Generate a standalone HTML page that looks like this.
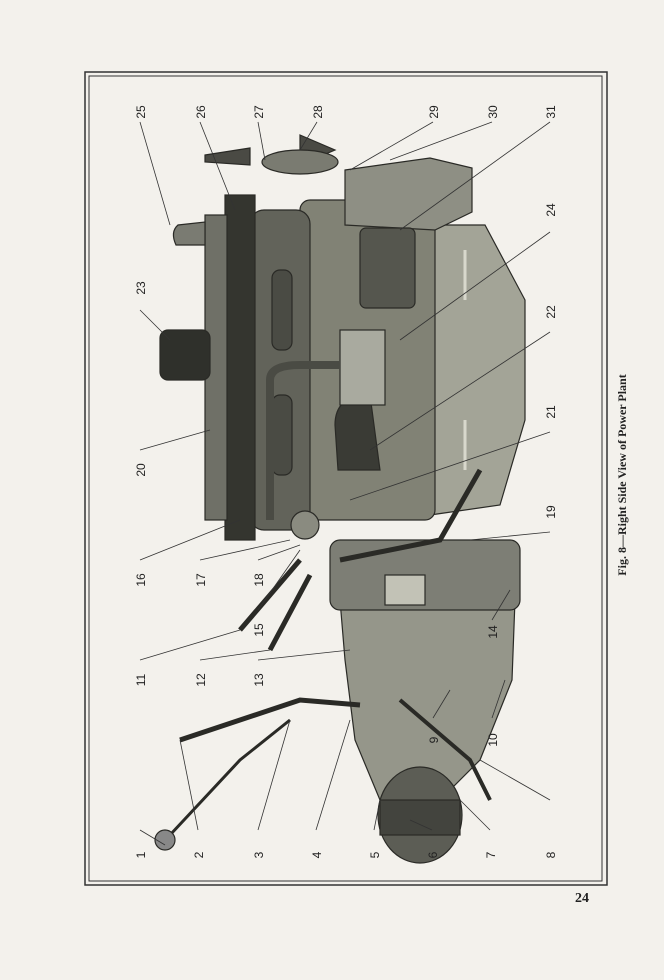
<!DOCTYPE html>
<html><head><meta charset="utf-8"><style>
html,body{margin:0;padding:0;background:#f3f1ec;}
svg{display:block}
text{font-family:"Liberation Sans",sans-serif;}
</style></head><body>
<svg width="664" height="980" viewBox="0 0 664 980" xmlns="http://www.w3.org/2000/svg">
<rect width="664" height="980" fill="#f3f1ec"/>
<rect x="85" y="72" width="522" height="813" fill="none" stroke="#333" stroke-width="1.5"/>
<rect x="89" y="76" width="513" height="805" fill="none" stroke="#333" stroke-width="1"/>
<g stroke="#2a2a26" stroke-width="1.2">
<!-- oil pan -->
<path d="M430 225 L485 225 L525 300 L525 420 L500 505 L430 515 Z" fill="#a3a497"/>
<path d="M465 250 L465 300 M465 420 L465 470" stroke="#d8d8cc" stroke-width="3"/>
<!-- block -->
<rect x="300" y="200" width="135" height="320" rx="10" fill="#818275"/>
<rect x="250" y="210" width="60" height="320" rx="14" fill="#62635a"/>
<rect x="272" y="270" width="20" height="80" rx="8" fill="#4a4b44"/>
<rect x="272" y="395" width="20" height="80" rx="8" fill="#4a4b44"/>
<rect x="225" y="195" width="30" height="345" fill="#34352f"/>
<rect x="205" y="215" width="22" height="305" fill="#6f7067"/>
<path d="M178 225 Q170 232 176 245 L205 245 L205 222 Z" fill="#7a7b72"/>
<!-- timing cover -->
<path d="M345 170 L430 158 L472 168 L472 212 L435 230 L345 225 Z" fill="#8e8f84"/>
<rect x="360" y="228" width="55" height="80" rx="6" fill="#55564e"/>
<!-- fan -->
<path d="M205 155 L250 148 L250 165 L205 162 Z" fill="#4a4a44"/>
<path d="M300 135 L335 150 L300 165 Z" fill="#4a4a44"/>
<ellipse cx="300" cy="162" rx="38" ry="12" fill="#7a7b71"/>
<!-- air cleaner -->
<rect x="160" y="330" width="50" height="50" rx="8" fill="#2f302b"/>
<!-- carburetor / intake -->
<path d="M335 425 Q335 395 370 395 L380 470 L338 470 Z" fill="#3a3b35"/>
<rect x="340" y="330" width="45" height="75" fill="#a9aa9f"/>
<path d="M270 520 L270 380 Q270 365 300 365 L340 365" fill="none" stroke="#4a4b44" stroke-width="8"/>
<!-- transmission -->
<path d="M340 600 L515 600 L512 680 L480 760 L440 800 L380 800 L355 740 L345 660 Z" fill="#95968a"/>
<rect x="330" y="540" width="190" height="70" rx="10" fill="#7d7e75"/>
<rect x="385" y="575" width="40" height="30" fill="#c2c2b6"/>
<circle cx="305" cy="525" r="14" fill="#8a8b80"/>
<!-- pedals -->
<path d="M300 560 L240 630 M310 575 L270 650" fill="none" stroke-width="5"/>
<!-- clutch drum -->
<ellipse cx="420" cy="815" rx="42" ry="48" fill="#5c5d55"/>
<rect x="380" y="800" width="80" height="35" fill="#43443e"/>
<!-- levers -->
<path d="M180 740 L300 700 L360 705" fill="none" stroke-width="5"/>
<path d="M170 835 L240 760 L290 720" fill="none" stroke-width="3"/>
<ellipse cx="165" cy="840" rx="10" ry="10" fill="#888"/>
<path d="M400 700 L470 760 L490 800" fill="none" stroke-width="4"/>
<!-- exhaust -->
<path d="M480 470 L440 540 L340 560" fill="none" stroke-width="5"/>
</g>
<g stroke="#333" stroke-width="0.8" fill="none">
<path d="M140 122 L170 225"/><path d="M200 122 L235 210"/><path d="M258 122 L265 160"/><path d="M317 122 L300 150"/>
<path d="M433 122 L350 170"/><path d="M492 122 L390 160"/><path d="M550 122 L400 230"/>
<path d="M550 232 L400 340"/><path d="M550 332 L370 450"/><path d="M550 432 L350 500"/><path d="M550 532 L470 540"/>
<path d="M492 620 L510 590"/><path d="M492 718 L505 680"/><path d="M433 718 L450 690"/>
<path d="M550 800 L480 760"/><path d="M490 830 L460 800"/><path d="M432 830 L410 820"/><path d="M374 830 L380 800"/><path d="M316 830 L350 720"/><path d="M258 830 L290 720"/><path d="M198 830 L180 740"/><path d="M140 830 L165 845"/>
<path d="M140 660 L240 630"/><path d="M200 660 L270 650"/><path d="M258 660 L350 650"/><path d="M258 610 L300 550"/><path d="M200 560 L290 540"/><path d="M140 560 L240 520"/><path d="M258 560 L300 545"/>
<path d="M140 450 L210 430"/><path d="M140 310 L170 340"/>
</g>
<g font-size="12" fill="#222">
<text transform="translate(145,112) rotate(-90)" text-anchor="middle">25</text>
<text transform="translate(205,112) rotate(-90)" text-anchor="middle">26</text>
<text transform="translate(263,112) rotate(-90)" text-anchor="middle">27</text>
<text transform="translate(322,112) rotate(-90)" text-anchor="middle">28</text>
<text transform="translate(438,112) rotate(-90)" text-anchor="middle">29</text>
<text transform="translate(497,112) rotate(-90)" text-anchor="middle">30</text>
<text transform="translate(555,112) rotate(-90)" text-anchor="middle">31</text>
<text transform="translate(555,210) rotate(-90)" text-anchor="middle">24</text>
<text transform="translate(555,312) rotate(-90)" text-anchor="middle">22</text>
<text transform="translate(555,412) rotate(-90)" text-anchor="middle">21</text>
<text transform="translate(555,512) rotate(-90)" text-anchor="middle">19</text>
<text transform="translate(497,632) rotate(-90)" text-anchor="middle">14</text>
<text transform="translate(497,740) rotate(-90)" text-anchor="middle">10</text>
<text transform="translate(438,740) rotate(-90)" text-anchor="middle">9</text>
<text transform="translate(145,288) rotate(-90)" text-anchor="middle">23</text>
<text transform="translate(145,470) rotate(-90)" text-anchor="middle">20</text>
<text transform="translate(145,580) rotate(-90)" text-anchor="middle">16</text>
<text transform="translate(205,580) rotate(-90)" text-anchor="middle">17</text>
<text transform="translate(263,580) rotate(-90)" text-anchor="middle">18</text>
<text transform="translate(263,630) rotate(-90)" text-anchor="middle">15</text>
<text transform="translate(145,680) rotate(-90)" text-anchor="middle">11</text>
<text transform="translate(205,680) rotate(-90)" text-anchor="middle">12</text>
<text transform="translate(263,680) rotate(-90)" text-anchor="middle">13</text>
<text transform="translate(145,855) rotate(-90)" text-anchor="middle">1</text>
<text transform="translate(203,855) rotate(-90)" text-anchor="middle">2</text>
<text transform="translate(263,855) rotate(-90)" text-anchor="middle">3</text>
<text transform="translate(321,855) rotate(-90)" text-anchor="middle">4</text>
<text transform="translate(379,855) rotate(-90)" text-anchor="middle">5</text>
<text transform="translate(437,855) rotate(-90)" text-anchor="middle">6</text>
<text transform="translate(495,855) rotate(-90)" text-anchor="middle">7</text>
<text transform="translate(555,855) rotate(-90)" text-anchor="middle">8</text>
</g>
<text transform="translate(626,475) rotate(-90)" text-anchor="middle" font-size="12" font-weight="bold" fill="#222" style="font-family:'Liberation Serif',serif">Fig. 8—Right Side View of Power Plant</text>
<text x="575" y="902" font-size="14" font-weight="bold" fill="#222" style="font-family:'Liberation Serif',serif">24</text>
</svg>
</body></html>
